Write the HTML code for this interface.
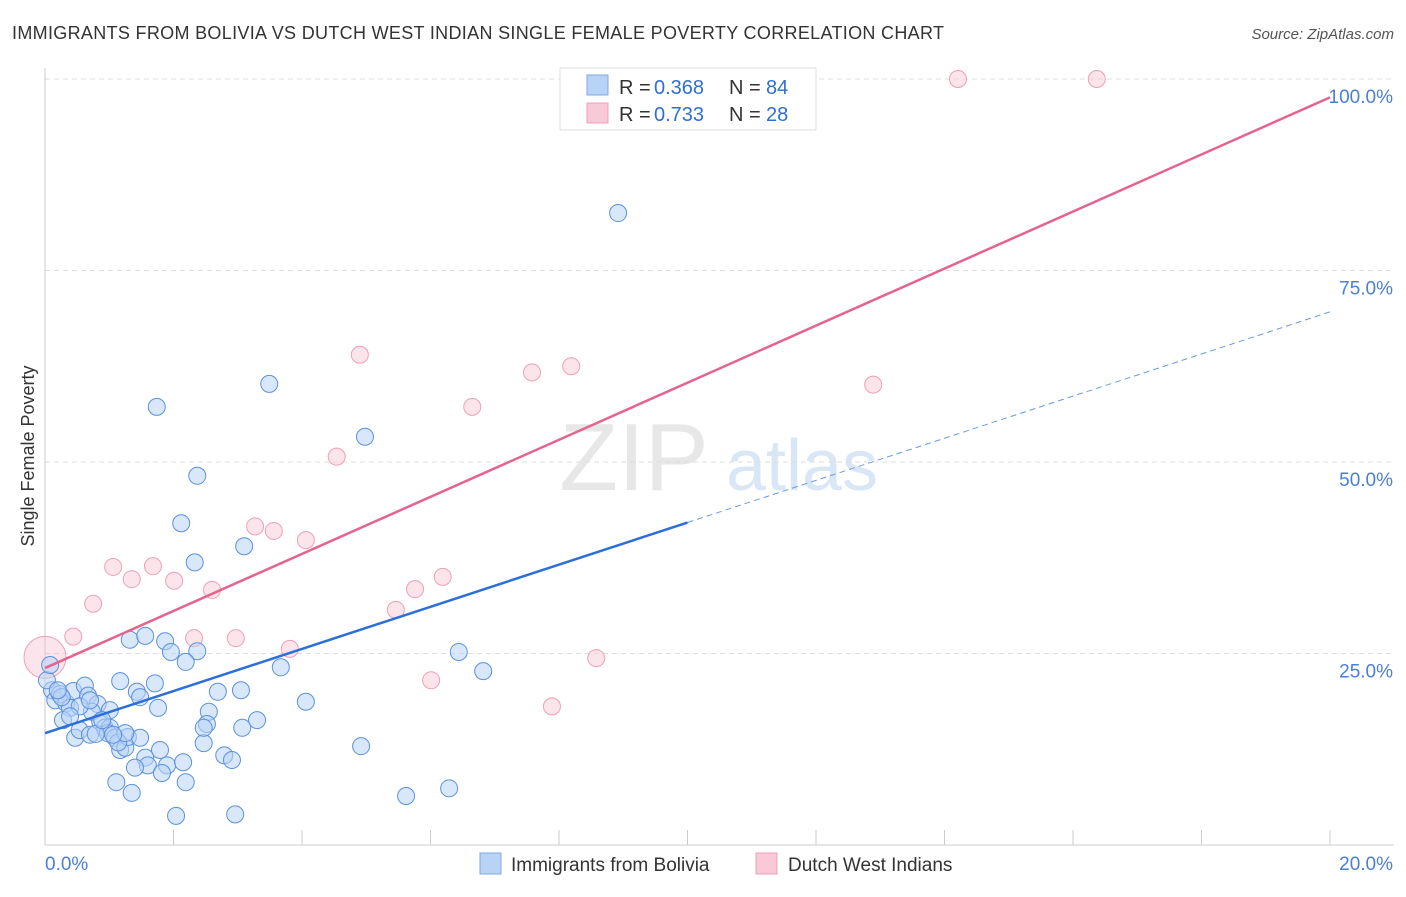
<!DOCTYPE html>
<html><head><meta charset="utf-8"><style>
body{margin:0;background:#fff;font-family:"Liberation Sans",sans-serif;}
svg text{font-family:"Liberation Sans",sans-serif;}
</style></head><body>
<svg id="chart" width="1406" height="892" xmlns="http://www.w3.org/2000/svg">
<text x="12" y="39" font-size="18" fill="#333" textLength="932">IMMIGRANTS FROM BOLIVIA VS DUTCH WEST INDIAN SINGLE FEMALE POVERTY CORRELATION CHART</text>
<text x="1394" y="39" font-size="15" fill="#555" text-anchor="end" font-style="italic">Source: ZipAtlas.com</text>
<text transform="translate(34,456) rotate(-90)" font-size="18" fill="#333" text-anchor="middle">Single Female Poverty</text>
<g id="watermark">
<text x="634" y="490" font-size="96" fill="#ddd" text-anchor="middle" font-family="Liberation Serif" opacity="0.7">ZIP</text>
<text x="802" y="490" font-size="72" fill="#c9dcf2" text-anchor="middle" opacity="0.7">atlas</text>
</g>
<g id="grid"></g><g id="axes"></g><g id="marks"></g>
<g>
<rect x="560" y="68" width="256" height="62" fill="#fff" stroke="#ddd"/>
<rect x="587" y="75" width="21" height="20" fill="#b8d3f5" stroke="#7fa9e0"/>
<rect x="587" y="103" width="21" height="20" fill="#fac9d7" stroke="#eea0b8"/>
<text x="619" y="94" font-size="20" fill="#333">R =</text><text x="654" y="94" font-size="20" fill="#2f6fd0">0.368</text>
<text x="729" y="94" font-size="20" fill="#333">N =</text><text x="766" y="94" font-size="20" fill="#2f6fd0">84</text>
<text x="619" y="121" font-size="20" fill="#333">R =</text><text x="654" y="121" font-size="20" fill="#2f6fd0">0.733</text>
<text x="729" y="121" font-size="20" fill="#333">N =</text><text x="766" y="121" font-size="20" fill="#2f6fd0">28</text>
</g>
<g>
<rect x="480" y="853" width="21" height="21" fill="#b8d3f5" stroke="#7fa9e0"/>
<text x="511" y="871" font-size="19" fill="#333">Immigrants from Bolivia</text>
<rect x="756" y="853" width="21" height="21" fill="#fac9d7" stroke="#eea0b8"/>
<text x="788" y="871" font-size="19" fill="#333">Dutch West Indians</text>
</g>
</svg>
<script>
const xTicks=[0,20];
const yTicks=[25,50,75,100];
const bluePx=[[157,407],[269,384],[618,213],[365,437],[197,476],[181,523],[244,546],[195,562],[130,640],[145,636],[165,641],[171,652],[197,651],[186,662],[281,667],[459,652],[483,671],[306,702],[120,681],[155,683],[137,692],[140,697],[218,692],[241,690],[158,708],[209,712],[207,724],[257,720],[242,728],[52,690],[47,680],[55,700],[60,694],[66,703],[73,691],[85,686],[88,696],[70,708],[98,704],[92,712],[80,706],[63,720],[75,738],[80,730],[90,735],[100,722],[105,728],[110,728],[108,733],[115,738],[120,750],[125,748],[128,737],[140,738],[118,742],[160,750],[145,758],[148,765],[167,765],[183,762],[135,768],[162,773],[204,743],[224,755],[232,760],[116,782],[186,782],[132,793],[176,816],[235,814],[361,746],[406,796],[449,788],[50,665],[62,697],[110,710],[96,734],[204,728],[58,690],[70,716],[102,720],[125,733],[113,735],[90,700]];
const pinkPx=[[958,79],[1097,79],[360,355],[571,366],[532,372],[873,385],[472,407],[337,457],[255,526],[274,531],[306,540],[113,567],[153,566],[132,579],[174,581],[212,590],[93,604],[415,589],[443,577],[396,610],[73,637],[194,638],[236,638],[290,649],[596,658],[431,680],[552,706]];
const blueX=bluePx.map(p=>+((p[0]-45)/1285*20).toFixed(2));
const blueY=bluePx.map(p=>+((845-p[1])/7.66).toFixed(1));
const pinkX=pinkPx.map(p=>+((p[0]-45)/1285*20).toFixed(2));
const pinkY=pinkPx.map(p=>+((845-p[1])/7.66).toFixed(1));
const blueTrend=[14.6,69.6];
const pinkTrend=[23.1,97.6];
const sx=v=>45+v/20*1285, sy=v=>845-v*7.66;
const NS="http://www.w3.org/2000/svg";
function mk(t,a,parent){const e=document.createElementNS(NS,t);for(const k in a)e.setAttribute(k,a[k]);document.getElementById(parent).appendChild(e);return e;}
yTicks.forEach(v=>{
 const l=mk('line',{x1:45,x2:1394,y1:sy(v),y2:sy(v),stroke:'#ddd','stroke-dasharray':'5,4'},'grid');
 
 
 const t=mk('text',{x:1393,y:sy(v)+24,'font-size':19,fill:'#4a7fd4','text-anchor':'end'},'axes');t.textContent=v.toFixed(1)+'%';
 
 
});
const ax=mk('line',{x1:45,x2:45,y1:68,y2:845,stroke:'#ccc'},'axes');


const bx=mk('line',{x1:45,x2:1394,y1:845,y2:845,stroke:'#ccc'},'axes');


for(let i=1;i<=10;i++){const tk=mk('line',{x1:sx(i*2),x2:sx(i*2),y1:830,y2:845,stroke:'#ccc'},'axes');
 
 }
xTicks.forEach((v,i)=>{const t=mk('text',{x:i?1393:45,y:870,'font-size':19,fill:'#4a7fd4','text-anchor':i?'end':'start'},'axes');t.textContent=v.toFixed(1)+'%';
 
 });
pinkX.forEach((x,i)=>{const c=mk('circle',{cx:sx(x),cy:sy(pinkY[i]),r:8.5,fill:'#fac9d7','fill-opacity':0.5,stroke:'#eea0b8'},'marks');
 
 });
const big=mk('circle',{cx:45,cy:sy(24.5),r:21,fill:'#f5bccd','fill-opacity':0.4,stroke:'#eea0b8'},'marks');


blueX.forEach((x,i)=>{const c=mk('circle',{cx:sx(x),cy:sy(blueY[i]),r:8.5,fill:'#b8d3f5','fill-opacity':0.55,stroke:'#5c91de'},'marks');
 
 });
const bs=x=>blueTrend[0]+(blueTrend[1]-blueTrend[0])*x/20;
const l1=mk('line',{x1:sx(0),y1:sy(bs(0)),x2:sx(10),y2:sy(bs(10)),stroke:'#2c6fd8','stroke-width':2.5},'marks');


const l2=mk('line',{x1:sx(10),y1:sy(bs(10)),x2:sx(20),y2:sy(bs(20)),stroke:'#6a9be0','stroke-width':1,'stroke-dasharray':'6,4'},'marks');


const l3=mk('line',{x1:sx(0),y1:sy(pinkTrend[0]),x2:sx(20),y2:sy(pinkTrend[1]),stroke:'#e4648e','stroke-width':2.5},'marks');


</script>
</body></html>
